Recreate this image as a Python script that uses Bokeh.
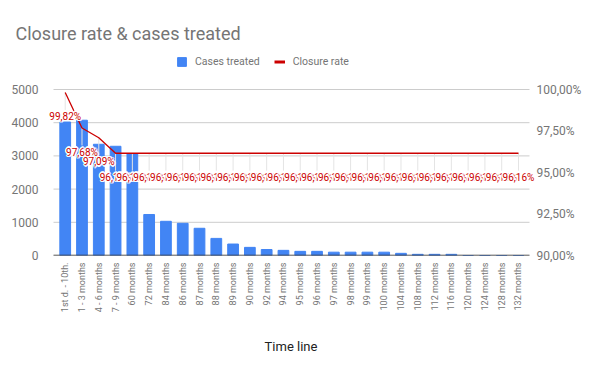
import math
from bokeh.plotting import figure
from bokeh.models import (Range1d, LinearAxis, FixedTicker, Legend, LegendItem,
                          ColumnDataSource)
from bokeh.embed import file_html
from bokeh.resources import INLINE
from bokeh.core.properties import value

# ---- data ----
categories = ["1st d. - 10th.", "1 - 3 months", "4 - 6 months", "7 - 9 months",
              "60 months", "72 months", "84 months", "86 months", "87 months",
              "88 months", "89 months", "90 months", "92 months", "94 months",
              "95 months", "96 months", "97 months", "98 months", "99 months",
              "100 months", "104 months", "108 months", "112 months", "116 months",
              "120 months", "124 months", "128 months", "132 months"]
cases_treated = [4020, 4075, 3350, 3290, 3060, 1235, 1030, 970, 820, 515, 345,
                 245, 180, 155, 125, 125, 100, 100, 100, 100, 65, 35, 35, 35,
                 0, 0, 0, 0]
closure_rate = [99.82, 97.68, 97.09, 96.16, 96.16, 96.16, 96.16, 96.16, 96.16,
                96.16, 96.16, 96.16, 96.16, 96.16, 96.16, 96.16, 96.16, 96.16,
                96.16, 96.16, 96.16, 96.16, 96.16, 96.16, 96.16, 96.16, 96.16,
                96.16]
left_ticks = [0, 1000, 2000, 3000, 4000, 5000]
right_ticks = [90, 92.5, 95, 97.5, 100]
right_tick_labels = ["90,00%", "92,50%", "95,00%", "97,50%", "100,00%"]

FONT = "Roboto"
GREY = "#757575"
BLUE = "#4285f4"
RED = "#cc0000"

# ---- layout constants ----
GRID_H = 166          # gridded part of the plot, px
FRAME_H = 207         # frame extends above it to hold the legend
stretch = FRAME_H / GRID_H
X_START, X_END = -1.174, 28.073   # frame extent in category-index units
GRID_LEFT, GRID_RIGHT = -0.697, 27.656   # where gridlines start / end

idx = list(range(len(categories)))
rate_labels = [("%.2f%%" % r).replace(".", ",") for r in closure_rate]
src = ColumnDataSource(dict(i=idx, cases=cases_treated, rate=closure_rate,
                            stem_end=[r - 1.05 for r in closure_rate]))

p = figure(x_range=Range1d(X_START, X_END),
           y_range=Range1d(0, left_ticks[-1] * stretch),
           frame_width=491, frame_height=FRAME_H,
           output_backend="svg", toolbar_location=None,
           min_border_left=45, min_border_right=56, min_border_bottom=108,
           min_border_top=48)
p.extra_y_ranges = {"rate": Range1d(right_ticks[0],
                                    right_ticks[0] + (right_ticks[-1] - right_ticks[0]) * stretch)}
p.outline_line_color = None
p.xgrid.grid_line_color = None
p.ygrid.grid_line_color = None

# gridlines
gsrc = ColumnDataSource(dict(x0=[GRID_LEFT] * len(left_ticks),
                             x1=[GRID_RIGHT] * len(left_ticks), y=left_ticks))
p.segment(x0="x0", y0="y", x1="x1", y1="y", source=gsrc, color="#cccccc", line_width=1)

bars = p.vbar(x="i", top="cases", width=0.64, source=src, color=BLUE)
# baseline
p.segment(x0=[GRID_LEFT], y0=[0], x1=[GRID_RIGHT], y1=[0], color="#333333", line_width=1.5)

p.segment(x0="i", y0="rate", x1="i", y1="stem_end", source=src,
          y_range_name="rate", color="#e4e4e4", line_width=1)
p.line(x="i", y="rate", source=src, y_range_name="rate", color=RED,
       line_width=1.3)

offs = [(-1.5, 0), (1.5, 0), (0, -1.5), (0, 1.5), (-1, -1), (1, 1), (-1, 1), (1, -1)]
for k in idx:
    s = ColumnDataSource(dict(x=[k], y=[closure_rate[k]], t=[rate_labels[k]]))
    for dx, dy in offs:
        p.text(x="x", y="y", text="t", source=s, y_range_name="rate",
               x_offset=dx, y_offset=24 + dy, text_color="white",
               text_align="center", text_baseline="middle",
               text_font=value(FONT), text_font_size="10px")
    p.text(x="x", y="y", text="t", source=s, y_range_name="rate",
           x_offset=0, y_offset=24, text_color=RED,
           text_align="center", text_baseline="middle",
           text_font=value(FONT), text_font_size="10px")

dummy = ColumnDataSource(dict(x=[0], y=[float("nan")]))
legend_line = p.line(x="x", y="y", source=dummy, color=RED, line_width=3,
                     y_range_name="rate")

# axes
xa = p.xaxis[0]
xa.ticker = FixedTicker(ticks=idx)
xa.major_label_overrides = {k: c for k, c in zip(idx, categories)}
xa.major_label_orientation = math.pi / 2
xa.major_label_text_font = FONT
xa.major_label_text_font_size = "9px"
xa.major_label_text_color = GREY
xa.major_tick_line_color = None
xa.major_tick_out = 0
xa.minor_tick_line_color = None
xa.axis_line_color = None
xa.major_label_standoff = 7
xa.axis_label = "Time line"
xa.axis_label_text_font = FONT
xa.axis_label_text_font_size = "13px"
xa.axis_label_text_font_style = "normal"
xa.axis_label_text_color = "#222222"
xa.axis_label_standoff = 24

ya = p.yaxis[0]
ya.ticker = FixedTicker(ticks=left_ticks)
ya.axis_line_color = None
ya.major_tick_line_color = None
ya.major_tick_out = 0
ya.minor_tick_line_color = None
ya.major_label_text_font = FONT
ya.major_label_text_font_size = "12px"
ya.major_label_text_color = GREY
ya.major_label_standoff = 7

ra = LinearAxis(y_range_name="rate", ticker=FixedTicker(ticks=right_ticks),
                major_label_overrides={t: l for t, l in zip(right_ticks, right_tick_labels)})
ra.axis_line_color = None
ra.major_tick_line_color = None
ra.major_tick_out = 0
ra.minor_tick_line_color = None
ra.major_label_text_font = FONT
ra.major_label_text_font_size = "12px"
ra.major_label_text_color = GREY
ra.major_label_standoff = 0
p.add_layout(ra, "right")

legend = Legend(items=[LegendItem(label="Cases treated", renderers=[bars]),
                       LegendItem(label="Closure rate", renderers=[legend_line])],
                orientation="horizontal", location=(131, 187),
                border_line_color=None, background_fill_alpha=0,
                label_text_font=FONT, label_text_font_size="10.5px",
                label_text_color=GREY, glyph_width=11, glyph_height=11,
                spacing=14, label_standoff=8, padding=0, margin=0)
p.add_layout(legend)

p.title.text = "Closure rate & cases treated"
p.title.text_font = FONT
p.title.text_font_size = "18px"
p.title.text_font_style = "normal"
p.title.text_color = GREY
p.title.align = "left"
p.title.offset = -30
p.title.standoff = 9

open("out.html", "w").write(file_html(p, INLINE))
